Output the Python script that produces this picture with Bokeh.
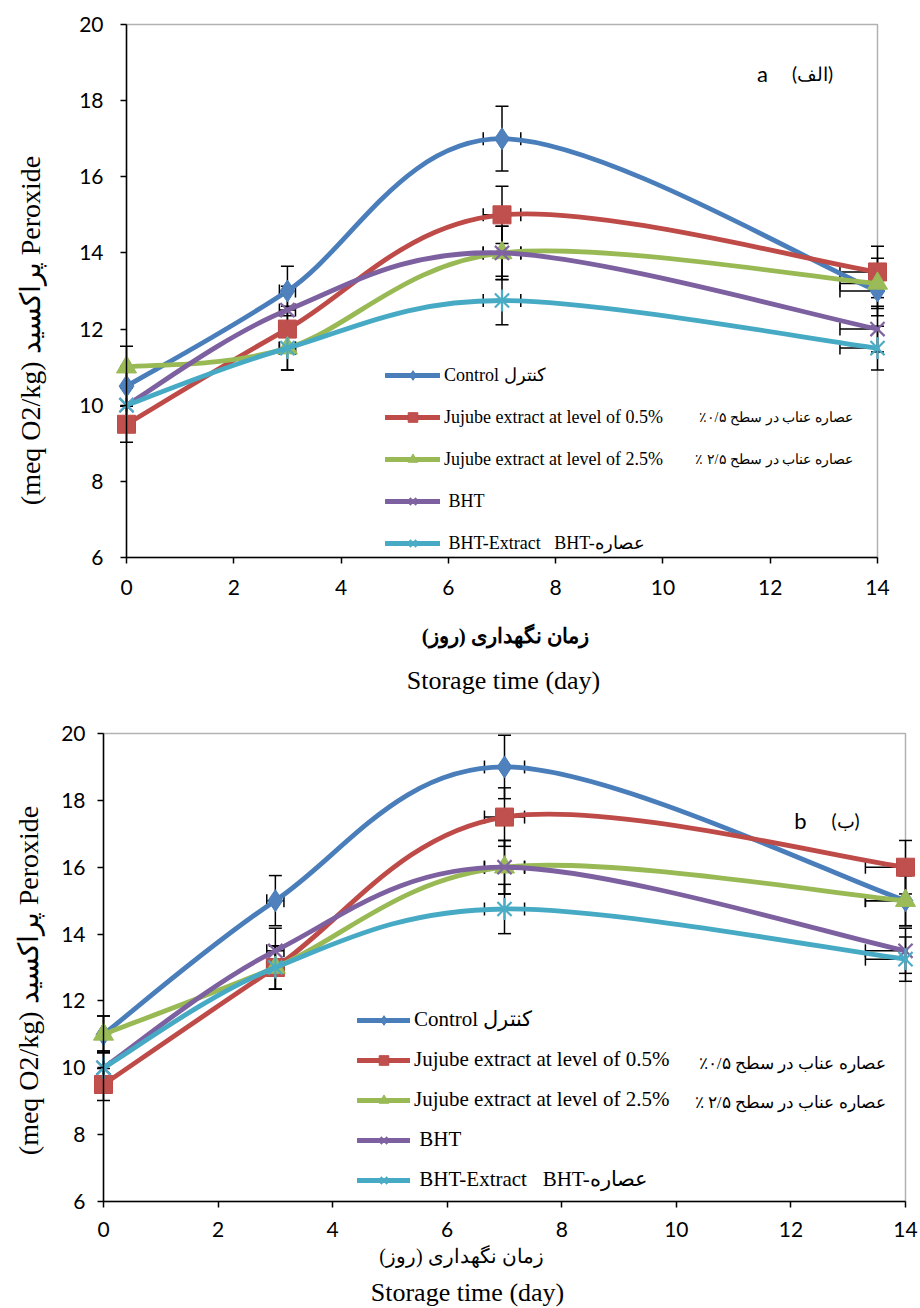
import math
import numpy as np
from bokeh.plotting import figure
from bokeh.models import (Range1d, Label, Legend, LegendItem, BoxAnnotation,
                          FixedTicker, ColumnDataSource)
from bokeh.layouts import column
from bokeh.embed import file_html
from bokeh.resources import INLINE

# ---------------- data ----------------
days = [0, 3, 7, 14]
x_ticks = [0, 2, 4, 6, 8, 10, 12, 14]
y_ticks = [6, 8, 10, 12, 14, 16, 18, 20]
X_MIN, X_MAX = 0, 14
Y_MIN, Y_MAX = 6, 20
ERR_PCT = 0.05  # percentage error bars (x and y)

series_en = ["Control \u06a9\u0646\u062a\u0631\u0644",
             "Jujube extract at level of 0.5%",
             "Jujube extract at level of 2.5%",
             "\u00a0BHT",
             "\u00a0BHT-Extract\u00a0\u00a0\u00a0BHT-\u0639\u0635\u0627\u0631\u0647"]
series_fa_extra = [None,
                   "\u0639\u0635\u0627\u0631\u0647 \u0639\u0646\u0627\u0628 \u062f\u0631 \u0633\u0637\u062d \u06f0/\u06f5\u066a\u200f",
                   "\u0639\u0635\u0627\u0631\u0647 \u0639\u0646\u0627\u0628 \u062f\u0631 \u0633\u0637\u062d \u06f2/\u06f5 \u066a\u200f",
                   None, None]

# panel a
a_control = [10.5, 13.0, 17.0, 13.0]
a_jujube_05 = [9.5, 12.0, 15.0, 13.5]
a_jujube_25 = [11.0, 11.5, 14.0, 13.2]
a_bht = [10.0, 12.5, 14.0, 12.0]
a_bht_extract = [10.0, 11.5, 12.75, 11.5]

# panel b
b_control = [11.0, 15.0, 19.0, 15.0]
b_jujube_05 = [9.5, 13.0, 17.5, 16.0]
b_jujube_25 = [11.0, 13.0, 16.0, 15.0]
b_bht = [10.0, 13.5, 16.0, 13.5]
b_bht_extract = [10.0, 13.0, 14.75, 13.25]

y_title = "(meq O2/kg) \u067e\u0631\u0627\u06a9\u0633\u06cc\u062f Peroxide"
x_title_fa = "\u0632\u0645\u0627\u0646 \u0646\u06af\u0647\u062f\u0627\u0631\u06cc (\u0631\u0648\u0632)"
x_title_en = "Storage time (day)"

line_colors = ["#4A7EBB", "#BE4B48", "#98B954", "#7D60A0", "#46AAC5"]
mark_colors = ["#4F81BD", "#C0504D", "#9BBB59", "#8064A2", "#4BACC6"]
markers = ["diamond", "square", "triangle", "x", "star"]

SERIF = "Liberation Serif"
SANS = "Lato"


def bezier_cols(xs, ys):
    n = len(xs)
    out = {k: [] for k in ["x0", "y0", "x1", "y1", "cx0", "cy0", "cx1", "cy1"]}
    for i in range(n - 1):
        i0 = max(i - 1, 0)
        i3 = min(i + 2, n - 1)
        out["x0"].append(xs[i]); out["y0"].append(ys[i])
        out["x1"].append(xs[i + 1]); out["y1"].append(ys[i + 1])
        out["cx0"].append(xs[i] + (xs[i + 1] - xs[i0]) / 6.0)
        out["cy0"].append(ys[i] + (ys[i + 1] - ys[i0]) / 6.0)
        out["cx1"].append(xs[i + 1] - (xs[i3] - xs[i]) / 6.0)
        out["cy1"].append(ys[i + 1] - (ys[i3] - ys[i]) / 6.0)
    return out


def build(series, g):
    W, H = 920, g["h"]
    ppx = (g["x14"] - g["x0"]) / (X_MAX - X_MIN)
    ppy = (g["ybot"] - g["ytop"]) / (Y_MAX - Y_MIN)

    def dx(px):
        return X_MIN + (px - g["x0"]) / ppx

    def dy(py):
        return Y_MAX - (py - g["ytop"]) / ppy

    p = figure(width=W, height=H, title=None,
               x_range=Range1d(dx(0), dx(W)),
               y_range=Range1d(dy(H), dy(0)),
               output_backend="svg", toolbar_location=None,
               min_border=0, min_border_left=0, min_border_right=0,
               min_border_top=0, min_border_bottom=0)
    p.outline_line_color = None
    p.grid.visible = False
    p.background_fill_color = "white"
    p.border_fill_color = "white"

    for ax, ticks, loc, bnds in ((p.xaxis, x_ticks, Y_MIN, (X_MIN, X_MAX)),
                                 (p.yaxis, y_ticks, X_MIN, (Y_MIN, Y_MAX))):
        ax.ticker = FixedTicker(ticks=ticks)
        ax.fixed_location = loc
        ax.bounds = bnds
        ax.axis_line_color = "black"
        ax.axis_line_width = 1.5
        ax.major_tick_line_color = "black"
        ax.major_tick_line_width = 1.5
        ax.major_tick_out = 6
        ax.major_tick_in = 0
        ax.minor_tick_line_color = None
        ax.major_label_text_font = SANS
        ax.major_label_text_font_size = g["tick_fs"]
        ax.major_label_text_color = "black"
    p.xaxis.major_label_standoff = g["xstand"]
    p.yaxis.major_label_standoff = g["ystand"]

    box = BoxAnnotation(left=X_MIN, right=X_MAX, bottom=Y_MIN, top=Y_MAX,
                        fill_alpha=0, line_color="black", line_width=1.5,
                        level="underlay")
    p.add_layout(box)

    # error bars (clipped to the plot area like the original)
    for vals in series:
        lo = [v * (1 - ERR_PCT) for v in vals]
        hi = [v * (1 + ERR_PCT) for v in vals]
        xlo = [d * (1 - ERR_PCT) for d in days]
        xhi = [d * (1 + ERR_PCT) for d in days]
        xhi_c = [min(x, X_MAX) for x in xhi]
        cap_x = [x for x in xhi if x <= X_MAX]
        cap_y = [v for x, v in zip(xhi, vals) if x <= X_MAX]
        p.segment(x0=days, y0=lo, x1=days, y1=hi, line_color="black", line_width=1.5)
        p.scatter(days, lo, marker="dash", size=13, line_color="black", line_width=1.5)
        p.scatter(days, hi, marker="dash", size=13, line_color="black", line_width=1.5)
        p.segment(x0=xlo, y0=vals, x1=xhi_c, y1=vals, line_color="black", line_width=1.5)
        p.scatter(xlo, vals, marker="dash", angle=math.pi / 2, size=13,
                  line_color="black", line_width=1.5)
        p.scatter(cap_x, cap_y, marker="dash", angle=math.pi / 2, size=13,
                  line_color="black", line_width=1.5)

    items = []
    for i, vals in enumerate(series):
        src = ColumnDataSource(bezier_cols(days, vals))
        p.bezier("x0", "y0", "x1", "y1", "cx0", "cy0", "cx1", "cy1", source=src,
                 line_color=line_colors[i], line_width=4.8, line_cap="round")
        leg_line = p.line([np.nan], [np.nan], line_color=line_colors[i],
                          line_width=4.8, line_cap="round")
        rends = [leg_line]
        m = markers[i]
        if m == "diamond":
            rends.append(p.scatter(days, vals, marker="diamond", size=22,
                                   fill_color=mark_colors[i], line_color=line_colors[i]))
        elif m == "square":
            rends.append(p.scatter(days, vals, marker="square", size=18,
                                   fill_color=mark_colors[i], line_color=line_colors[i]))
        elif m == "triangle":
            rends.append(p.scatter(days, vals, marker="triangle", size=20,
                                   fill_color=mark_colors[i], line_color=line_colors[i]))
        elif m == "x":
            rends.append(p.scatter(days, vals, marker="x", size=20,
                                   line_color=mark_colors[i], line_width=2.2))
        else:
            rends.append(p.scatter(days, vals, marker="x", size=20,
                                   line_color=mark_colors[i], line_width=2.2))
            rends.append(p.scatter(days, vals, marker="dash", angle=math.pi / 2, size=22,
                                   line_color=mark_colors[i], line_width=2.2))
        items.append(LegendItem(label=series_en[i], renderers=rends))

    lg = g["leg"]
    n = len(items)
    leg_h = n * 24 + (n - 1) * lg["spacing"]
    legend = Legend(items=items, location=(lg["left"], H - lg["bottom"]),
                    glyph_width=lg["gw"], glyph_height=24, label_height=24,
                    spacing=lg["spacing"], padding=0, margin=0,
                    label_standoff=4, border_line_alpha=0,
                    background_fill_alpha=0,
                    label_text_font=SERIF, label_text_font_size=lg["fs"],
                    label_text_color="black")
    p.add_layout(legend)

    # Persian extra legend text, aligned to legend rows
    leg_top = lg["bottom"] - leg_h
    for i, t in enumerate(series_fa_extra):
        if t is None:
            continue
        cy = leg_top + i * (24 + lg["spacing"]) + 12
        p.add_layout(Label(x=dx(lg["fa_right"]), y=dy(cy), text=t,
                           text_align="right", text_baseline="middle",
                           text_font=SERIF, text_font_size=lg["fa_fs"],
                           text_color="black"))

    # panel tag
    p.add_layout(Label(x=dx(g["tag"][0]), y=dy(g["tag"][2]), text=g["tag_en"],
                       text_align="center", text_baseline="middle",
                       text_font=SANS, text_font_size="22px", text_color="black"))
    p.add_layout(Label(x=dx(g["tag"][1]), y=dy(g["tag"][2]), text=g["tag_fa"],
                       text_align="center", text_baseline="middle",
                       text_font=SANS, text_font_size="19px", text_color="black"))

    # axis titles
    p.add_layout(Label(x=dx(g["ytitle"][0]), y=dy(g["ytitle"][1]), text=y_title,
                       angle=math.pi / 2, text_align="center", text_baseline="middle",
                       text_font=SERIF, text_font_size="28px", text_color="black"))
    p.add_layout(Label(x=dx(g["xfa"][0]), y=dy(g["xfa"][1]), text=x_title_fa,
                       text_align="center", text_baseline="middle",
                       text_font=SERIF, text_font_size=g["xfa_fs"],
                       text_font_style=g["xfa_style"], text_color="black"))
    p.add_layout(Label(x=dx(g["xen"][0]), y=dy(g["xen"][1]), text=x_title_en,
                       text_align="center", text_baseline="middle",
                       text_font=SERIF, text_font_size="26px", text_color="black"))
    return p


geom_a = dict(h=700, x0=126, x14=877, ytop=24, ybot=557, tick_fs="21px",
              xstand=16, ystand=17,
              leg=dict(left=385, bottom=555, gw=55, spacing=18, fs="18px",
                       fa_right=852, fa_fs="14px"),
              tag=(762, 812, 73), tag_en="a", tag_fa="(\u0627\u0644\u0641)",
              ytitle=(30, 330), xfa=(505, 635), xfa_fs="21px", xfa_style="bold",
              xen=(503, 680))
geom_b = dict(h=608, x0=103, x14=905, ytop=33, ybot=501, tick_fs="21px",
              xstand=14, ystand=12,
              leg=dict(left=357, bottom=492, gw=53, spacing=15, fs="21px",
                       fa_right=885, fa_fs="17px"),
              tag=(800, 845, 120), tag_en="b", tag_fa="(\u0628)",
              ytitle=(28, 280), xfa=(461, 555), xfa_fs="20px", xfa_style="normal",
              xen=(467, 592))

pa = build([a_control, a_jujube_05, a_jujube_25, a_bht, a_bht_extract], geom_a)
pb = build([b_control, b_jujube_05, b_jujube_25, b_bht, b_bht_extract], geom_b)

layout = column(pa, pb, spacing=0)
open("out.html", "w").write(file_html(layout, INLINE))
